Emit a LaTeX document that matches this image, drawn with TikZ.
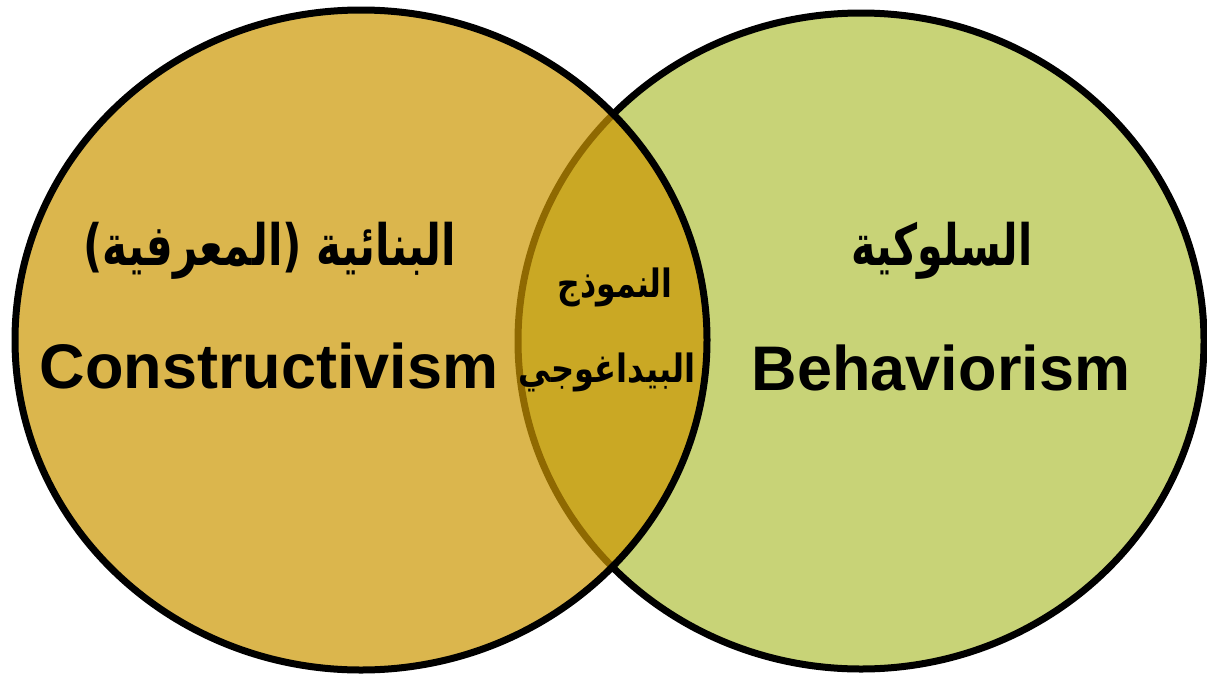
\documentclass[tikz,border=0pt]{standalone}
\usepackage{graphicx}
\usepackage{fontspec}
\setmainfont{Liberation Sans}
\newfontfamily\arabicfont[Script=Arabic]{DejaVu Sans}
\TeXXeTstate=1
\definecolor{leftfill}{RGB}{204,151,2}
\definecolor{rightfill}{RGB}{200,211,119}
\tikzset{
  venn/.style={line width=7pt, draw=black},
  entext/.style={anchor=base, font=\bfseries\fontsize{63}{70}\selectfont},
  artext/.style={anchor=base, font=\arabicfont\bfseries\fontsize{46}{52}\selectfont},
  midtext/.style={anchor=base, font=\arabicfont\bfseries\fontsize{30}{36}\selectfont},
}
\begin{document}
\begin{tikzpicture}[x=1pt,y=-1pt]
\useasboundingbox (0,0) rectangle (1207,678);
\path[venn, fill=rightfill] (861,341) ellipse [x radius=343, y radius=328];
\path[venn, fill=leftfill, fill opacity=0.7] (361,340) ellipse [x radius=346, y radius=330];
\node[artext] (arL) at (270,265) {\scalebox{0.92}[1.24]{\beginR البنائية (المعرفية)\endR}};
\node[entext] (enL) at (269,388) {Constructivism};
\node[artext] (arR) at (942,265) {\scalebox{0.9}[1.24]{\beginR السلوكية\endR}};
\node[entext] (enR) at (941,390) {Behaviorism};
\node[midtext] (m1) at (615,297) {\scalebox{1.05}[1.3]{\beginR النموذج\endR}};
\node[midtext] (m2) at (607,382) {\scalebox{1.07}[1.3]{\beginR البيداغوجي\endR}};
\end{tikzpicture}
\end{document}
